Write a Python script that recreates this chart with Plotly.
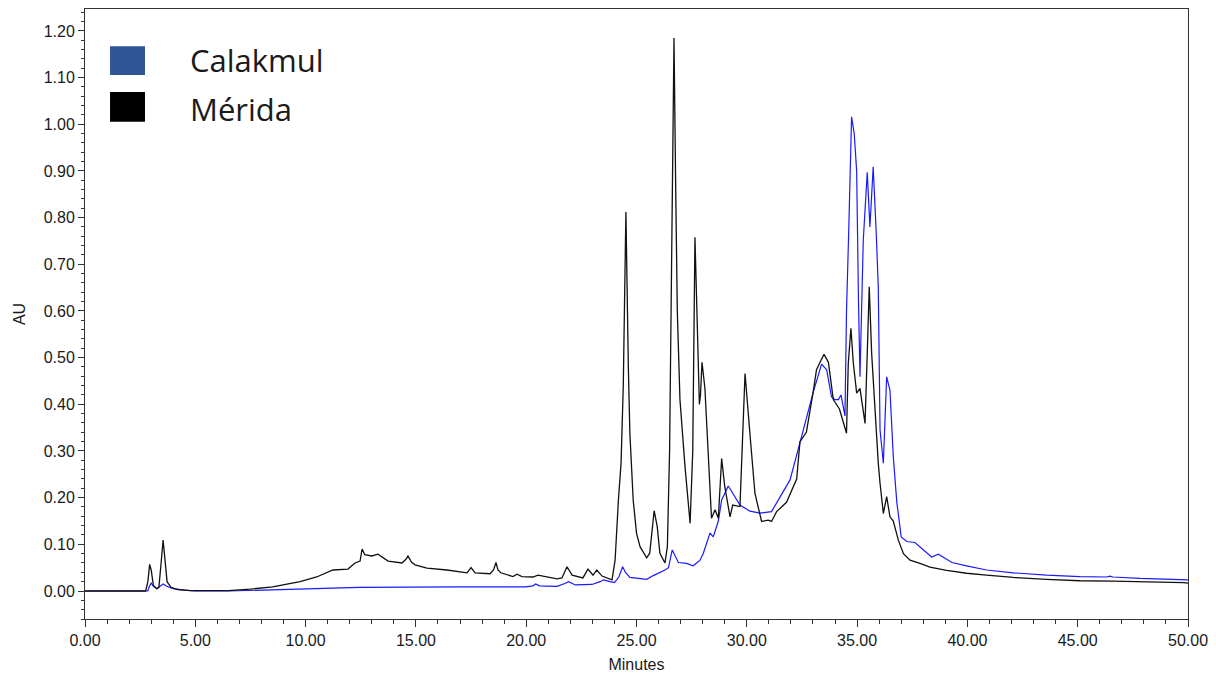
import plotly.graph_objects as go

# ---- data (minutes, AU) ----
t_merida = [0.0, 2.75, 2.85, 2.93, 3.0, 3.1, 3.25, 3.35, 3.45, 3.54, 3.62, 3.72, 3.9, 4.2, 4.8, 6.0, 6.5,
            7.5, 8.5, 9.75, 10.5, 11.24, 11.92, 12.24, 12.47, 12.56, 12.68, 13.0, 13.28, 13.74, 14.37,
            14.55, 14.64, 14.8, 14.96, 15.5, 16.41, 17.32, 17.5, 17.68, 18.36, 18.52, 18.63, 18.72,
            18.85, 19.4, 19.58, 19.81, 20.31, 20.53, 20.85, 21.4, 21.62, 21.85, 22.08, 22.57, 22.8,
            23.03, 23.2, 23.44, 23.89, 24.03, 24.18, 24.3, 24.4, 24.52, 24.63, 24.7, 24.85, 25.0,
            25.16, 25.46, 25.6, 25.8, 25.94, 26.06, 26.29, 26.4, 26.5, 26.6, 26.7, 26.78, 26.85,
            26.97, 27.2, 27.43, 27.55, 27.65, 27.75, 27.85, 27.9, 27.97, 28.1, 28.25, 28.4, 28.56,
            28.71, 28.86, 29.0, 29.24, 29.36, 29.69, 29.8, 29.92, 30.14, 30.37, 30.67, 30.97, 31.12,
            31.35, 31.8, 32.26, 32.41, 32.7, 33.0, 33.16, 33.32, 33.5, 33.7, 33.92, 34.2, 34.52,
            34.6, 34.72, 34.83, 34.98, 35.13, 35.36, 35.46, 35.55, 35.66, 35.81, 35.96, 36.04,
            36.19, 36.34, 36.49, 36.64, 36.87, 37.1, 37.4, 37.85, 38.3, 39.06, 39.96, 40.87, 42.08,
            43.59, 45.1, 46.6, 48.1, 49.79, 50.0]
au_merida = [0.0, 0.0, 0.02, 0.057, 0.045, 0.012, 0.005, 0.008, 0.06, 0.109, 0.07, 0.02, 0.008, 0.003,
             0.001, 0.0, 0.001, 0.004, 0.009, 0.020, 0.030, 0.045, 0.047, 0.060, 0.064, 0.090, 0.078,
             0.075, 0.079, 0.064, 0.060, 0.068, 0.075, 0.062, 0.056, 0.049, 0.045, 0.039, 0.050, 0.039,
             0.037, 0.045, 0.061, 0.045, 0.039, 0.031, 0.036, 0.031, 0.030, 0.034, 0.031, 0.026, 0.028,
             0.052, 0.034, 0.028, 0.047, 0.034, 0.045, 0.032, 0.024, 0.066, 0.195, 0.274, 0.438, 0.812,
             0.48, 0.338, 0.195, 0.124, 0.095, 0.071, 0.081, 0.172, 0.138, 0.081, 0.060, 0.095, 0.30,
             0.70, 1.185, 0.85, 0.60, 0.41, 0.266, 0.145, 0.30, 0.758, 0.60, 0.40, 0.42, 0.490, 0.435,
             0.295, 0.156, 0.174, 0.156, 0.284, 0.224, 0.159, 0.184, 0.181, 0.30, 0.466, 0.338, 0.209,
             0.149, 0.152, 0.149, 0.170, 0.190, 0.240, 0.320, 0.340, 0.424, 0.474, 0.49, 0.507, 0.49,
             0.41, 0.39, 0.338, 0.488, 0.563, 0.488, 0.424, 0.434, 0.359, 0.509, 0.652, 0.509, 0.381,
             0.274, 0.231, 0.166, 0.202, 0.159, 0.150, 0.109, 0.080, 0.066, 0.059, 0.051, 0.044, 0.038,
             0.034, 0.029, 0.025, 0.022, 0.021, 0.020, 0.018, 0.017]

t_calakmul = [0.0, 2.85, 2.92, 3.0, 3.1, 3.26, 3.4, 3.54, 3.7, 4.0, 4.5, 5.0, 6.5, 8.5, 9.75, 11.24,
              12.47, 14.6, 14.7, 14.8, 17.0, 19.96, 20.31, 20.43, 20.6, 21.4, 21.75, 21.92, 22.23,
              22.98, 23.35, 23.5, 23.8, 24.0, 24.2, 24.37, 24.5, 24.7, 25.46, 25.76, 26.29, 26.45,
              26.62, 26.75, 26.9, 27.27, 27.57, 27.88, 28.03, 28.33, 28.48, 28.71, 28.86, 29.16,
              29.39, 29.69, 30.14, 30.6, 31.12, 31.5, 31.96, 32.41, 32.79, 33.0, 33.39, 33.62, 33.84,
              34.0, 34.15, 34.27, 34.45, 34.52, 34.62, 34.75, 34.87, 34.98, 35.06, 35.13, 35.28,
              35.46, 35.58, 35.73, 35.88, 35.96, 36.04, 36.19, 36.34, 36.49, 36.64, 36.8, 37.0,
              37.25, 37.62, 38.0, 38.38, 38.68, 38.98, 39.3, 39.96, 40.87, 42.08, 43.59, 45.1, 46.3,
              46.46, 46.6, 47.82, 48.88, 50.0]
au_calakmul = [0.0, 0.0, 0.01, 0.017, 0.01, 0.005, 0.01, 0.015, 0.01, 0.005, 0.002, 0.0, 0.0, 0.002,
               0.004, 0.006, 0.0077, 0.0085, 0.010, 0.0085, 0.009, 0.009, 0.011, 0.015, 0.011, 0.010,
               0.016, 0.020, 0.013, 0.014, 0.020, 0.024, 0.020, 0.018, 0.030, 0.052, 0.040, 0.029,
               0.025, 0.033, 0.045, 0.05, 0.088, 0.075, 0.061, 0.059, 0.054, 0.066, 0.081, 0.124,
               0.116, 0.150, 0.195, 0.225, 0.206, 0.184, 0.171, 0.167, 0.170, 0.200, 0.238, 0.318,
               0.390, 0.424, 0.486, 0.474, 0.416, 0.410, 0.410, 0.420, 0.375, 0.60, 0.77, 1.016, 0.98,
               0.90, 0.63, 0.459, 0.752, 0.897, 0.78, 0.909, 0.752, 0.652, 0.345, 0.274, 0.459, 0.43,
               0.288, 0.19, 0.116, 0.106, 0.104, 0.088, 0.073, 0.079, 0.071, 0.061, 0.054, 0.045,
               0.039, 0.034, 0.031, 0.030, 0.032, 0.030, 0.027, 0.025, 0.024]

legend_names = ["Calakmul", "Mérida"]
legend_colors = ["#2F5597", "#000000"]
x_ticks = [0, 5, 10, 15, 20, 25, 30, 35, 40, 45, 50]

fig = go.Figure()
fig.add_trace(go.Scatter(x=t_calakmul, y=au_calakmul, mode="lines", name="Calakmul",
                         line=dict(color="#1a1aff", width=1.2), showlegend=False))
fig.add_trace(go.Scatter(x=t_merida, y=au_merida, mode="lines", name="Mérida",
                         line=dict(color="#111111", width=1.3), showlegend=False))

tick_font = dict(family="Liberation Sans, Arial, sans-serif", size=16, color="#1a1a1a")

fig.update_layout(
    width=1208, height=670,
    margin=dict(l=77, r=28, t=1, b=59),
    paper_bgcolor="white", plot_bgcolor="white",
    xaxis=dict(range=[0, 50], tickvals=x_ticks, tickformat=".2f",
               ticks="outside", ticklen=7, tickcolor="#333", tickwidth=1,
               minor=dict(dtick=1, ticks="outside", ticklen=4, tickcolor="#333"),
               showline=True, linecolor="#333", linewidth=1, mirror=True,
               showgrid=False, zeroline=False, tickfont=tick_font,
               title=dict(text="Minutes", font=tick_font, standoff=10)),
    yaxis=dict(range=[-0.06, 1.247], dtick=0.1, tick0=0, tickformat=".2f",
               ticks="outside", ticklen=6, tickcolor="#333", tickwidth=1,
               minor=dict(dtick=0.02, ticks="outside", ticklen=3, tickcolor="#333"),
               showline=True, linecolor="#333", linewidth=1, mirror=True,
               showgrid=False, zeroline=False, tickfont=tick_font,
               title=dict(text="AU", font=tick_font, standoff=14)),
)

# legend drawn as squares and text in the upper-left corner
sq_y = [(0.892, 0.939), (0.815, 0.864)]
txt_y = [0.916, 0.836]
for name, col, (y0, y1), ty in zip(legend_names, legend_colors, sq_y, txt_y):
    fig.add_shape(type="rect", xref="paper", yref="paper", x0=0.0227, x1=0.0544, y0=y0, y1=y1,
                  fillcolor=col, line=dict(width=0))
    fig.add_annotation(xref="paper", yref="paper", x=0.093, y=ty, text=name, showarrow=False,
                       xanchor="left", yanchor="middle",
                       font=dict(family="Open Sans, Noto Sans, sans-serif", size=31, color="#1a1a1a"))

fig.write_html("out.html")
